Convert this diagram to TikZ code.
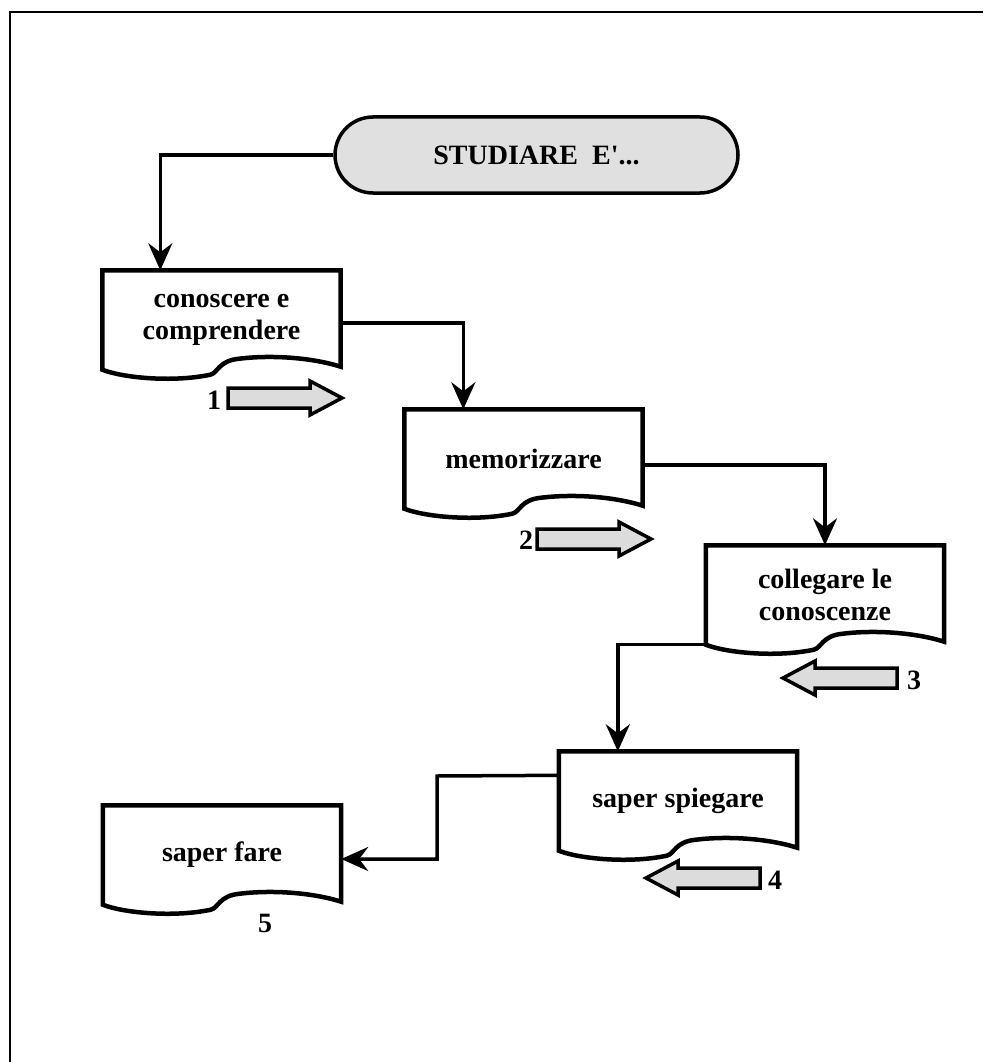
\documentclass[tikz,border=0pt]{standalone}
\usepackage{fontspec}
\setmainfont{Liberation Serif}[Ligatures=TeXOff]
\usetikzlibrary{arrows.meta,calc}
\definecolor{pillgray}{HTML}{E0E0E0}
\definecolor{arrgray}{HTML}{DCDCDC}
\tikzset{
  docnode/.style={minimum width=238pt, minimum height=99pt, inner sep=0pt, align=center,
    font=\fontsize{28}{32}\selectfont\bfseries},
  docline/.style={line width=4.5pt, line join=miter},
  conn/.style={line width=3.5pt, -{Stealth[length=27pt,width=24pt,inset=9pt]}},
  startnode/.style={draw, line width=3.5pt, fill=pillgray, rounded corners=38pt,
    minimum width=403pt, minimum height=76pt, inner sep=0pt,
    font=\fontsize{28}{32}\selectfont\bfseries},
  barrow/.style={draw, line width=3.5pt, fill=arrgray, line join=miter},
  numlabel/.style={inner sep=0pt, font=\fontsize{28}{32}\selectfont\bfseries},
  framestyle/.style={line width=2pt}
}
\newcommand\docshape[1]{%
  \draw[docline] (#1.north west) -- (#1.north east) -- ($(#1.south east)+(0,-3)$)
    .. controls ($(#1.south west)+(210,-12)$) and ($(#1.south west)+(170,-15)$) .. ($(#1.south west)+(137,-11)$)
    .. controls ($(#1.south west)+(116,-9)$) and ($(#1.south west)+(116,3)$) .. ($(#1.south west)+(108,5)$)
    .. controls ($(#1.south west)+(70,13)$) and ($(#1.south west)+(20,8)$) .. (#1.south west) -- cycle;}
\newcommand\blockarrow[3]{%
  \begin{scope}[shift={(#1,#2)}, xscale=#3]
    \draw[barrow] (0,-10) -- (82,-10) -- (82,-17) -- (114,0) -- (82,17) -- (82,10) -- (0,10) -- cycle;
  \end{scope}}
\begin{document}
\begin{tikzpicture}[x=1pt,y=-1pt]
\useasboundingbox (0,0) rectangle (983,1062);
% page frame (left and top edges)
\draw[framestyle] (10,1062) -- (10,12.5) -- (983,12.5);

% nodes
\node[startnode] (start) at (536.5,155) {STUDIARE\ \ E'...};
\node[docnode] (d1) at (221.5,320) {conoscere e\\comprendere};
\node[docnode] (d2) at (523.5,459) {memorizzare};
\node[docnode] (d3) at (825,595) {collegare le\\conoscenze};
\node[docnode] (d4) at (678,801) {saper spiegare};
\node[docnode] (d5) at (222,855) {saper fare};

\docshape{d1}
\docshape{d2}
\docshape{d3}
\docshape{d4}
\docshape{d5}

% connectors
\draw[conn] (start.west) -| ([xshift=58pt]d1.north west);
\draw[conn] ([yshift=-3pt]d1.east) -| ([xshift=59pt]d2.north west);
\draw[conn] ([yshift=-6pt]d2.east) -| (d3.north);
\draw[conn] (d3.south west) -| ([xshift=59pt]d4.north west);
\coordinate (bend5) at (437,776);
\draw[conn] ([yshift=-24pt]d4.north west) -- (bend5) |- ([yshift=-4pt]d5.east);

% block arrows
\blockarrow{228}{398}{1}
\blockarrow{537}{539}{1}
\blockarrow{897}{678}{-1}
\blockarrow{760}{878}{-1}

% numbers
\node[numlabel] (n1) at (214,400) {1};
\node[numlabel] (n2) at (526,540) {2};
\node[numlabel] (n3) at (914,680) {3};
\node[numlabel] (n4) at (775,880) {4};
\node[numlabel] (n5) at (265,923) {5};
\end{tikzpicture}
\end{document}
